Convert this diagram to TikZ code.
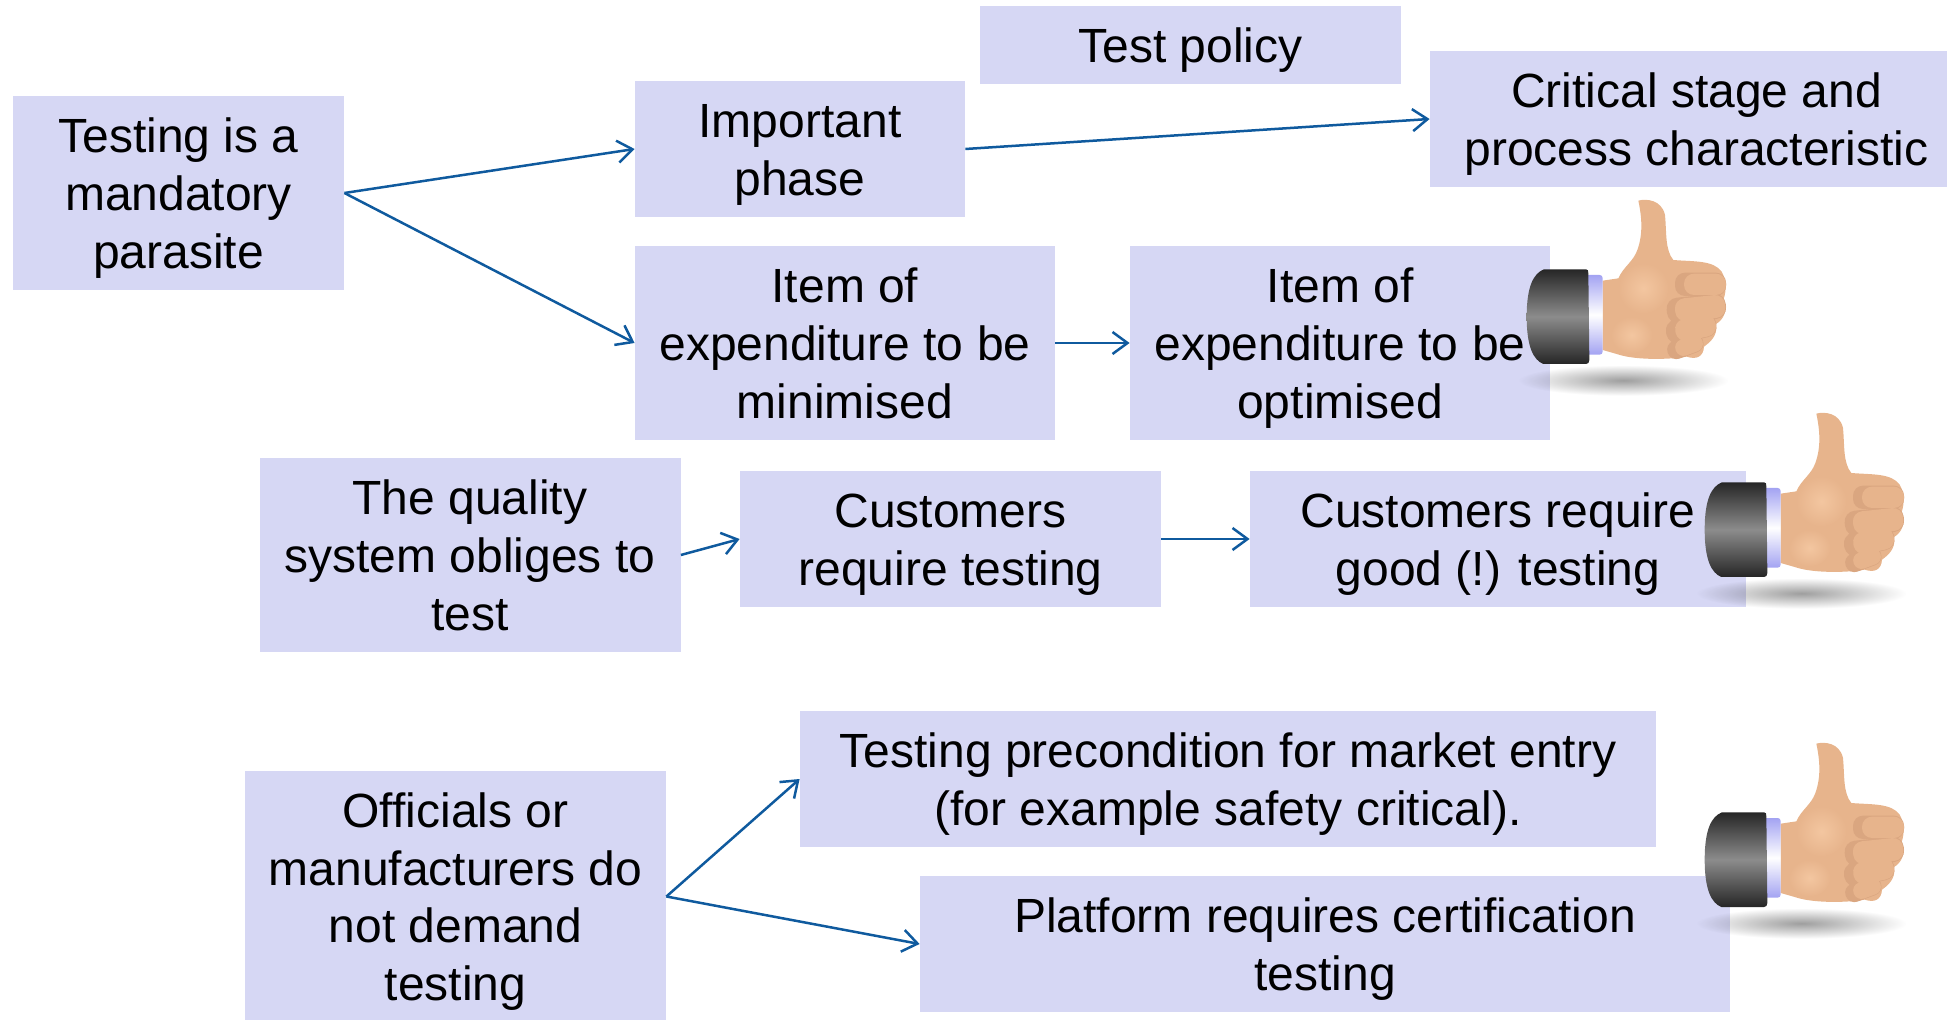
\documentclass[tikz,border=0pt]{standalone}
\usepackage{fontspec}
\setmainfont{Liberation Sans}
\usetikzlibrary{arrows.meta,fadings}
\definecolor{boxfill}{HTML}{D6D7F4}
\definecolor{linkblue}{HTML}{0F5A9E}
\definecolor{skin}{HTML}{E7B48C}
\definecolor{skinlight}{HTML}{F3C6A0}
\definecolor{skindark}{HTML}{DAA680}
\definecolor{cuffdark}{HTML}{262626}
\definecolor{cuffmid}{HTML}{8C8C8C}
\definecolor{shirt}{HTML}{A3A3F2}
\tikzfading[name=softshadow,inner color=transparent!62,outer color=transparent!100]
\newcommand\fl{\rule{0pt}{23pt}}
\tikzset{
  box/.style={fill=boxfill,draw=none,inner sep=0pt,align=center,text=black,
    font=\fontsize{24}{28.8}\selectfont,
    execute at end node=\rule[-5.5pt]{0pt}{5.5pt}},
  link/.style={draw=linkblue,line width=1.25pt,-{Straight Barb[length=7.5pt,width=11pt]}},
  thumb/.pic={
    \begin{scope}[scale=0.33333]
      % shadow
      \fill[black,path fading=softshadow,fit fading=true] (55,555) rectangle (685,647);
      % hand
      \fill[skin] (415,62) .. controls (440,55) and (485,60) .. (495,105)
        .. controls (500,160) and (495,210) .. (520,240)
        .. controls (580,245) and (640,240) .. (665,275)
        .. controls (685,310) and (675,345) .. (670,360)
        .. controls (685,390) and (670,420) .. (648,432)
        .. controls (655,470) and (625,490) .. (612,500)
        .. controls (610,530) and (590,540) .. (560,530)
        .. controls (500,540) and (400,540) .. (350,522)
        -- (308,510) -- (308,302) -- (355,295)
        .. controls (370,260) and (400,245) .. (412,210)
        .. controls (430,160) and (425,110) .. (415,62) -- cycle;
      % palm highlights
      \shade[inner color=skinlight,outer color=skin] (430,325) ellipse [x radius=75,y radius=75];
      \shade[inner color=skinlight,outer color=skin] (395,465) ellipse [x radius=62,y radius=55];
      % fingers
      \begin{scope}[fill=skindark]
        \fill[rounded corners=5pt] (525,278) rectangle (678,348);
        \fill[rotate around={6:(590,385)},rounded corners=5.5pt] (500,347) rectangle (678,423);
        \fill[rotate around={12:(570,445)},rounded corners=5.5pt] (497,410) rectangle (650,482);
        \fill[rotate around={20:(555,500)},rounded corners=4.5pt] (500,472) rectangle (612,528);
      \end{scope}
      \begin{scope}[fill=skin]
        \fill[rounded corners=5pt] (552,281) rectangle (678,345);
        \fill[rotate around={6:(590,385)},rounded corners=5pt] (525,351) rectangle (676,420);
        \fill[rotate around={12:(570,445)},rounded corners=5pt] (525,414) rectangle (648,480);
        \fill[rotate around={20:(555,500)},rounded corners=4pt] (525,476) rectangle (610,526);
      \end{scope}
      % shirt cuff
      \shade[top color=shirt,bottom color=shirt,middle color=white,rounded corners=1.5pt]
        (255,285) -- (308,285) -- (308,524) -- (255,524) -- cycle;
      % jacket sleeve
      \shade[top color=cuffdark,bottom color=cuffdark,middle color=cuffmid]
        (132,268) -- (258,268) .. controls (264,268) and (265,272) .. (265,280)
        -- (268,540) .. controls (268,548) and (264,552) .. (258,552)
        -- (130,552) .. controls (100,540) and (80,500) .. (80,410)
        .. controls (80,320) and (100,280) .. (132,268) -- cycle;
    \end{scope}
  }
}
\begin{document}
\begin{tikzpicture}[x=0.5pt,y=-0.5pt]
\useasboundingbox (0,0) rectangle (1947,1020);
\node[box,minimum width=165.5pt,minimum height=97pt] (parasite) at (178.5,193) {\fl Testing is a\\mandatory\\parasite};
\node[box,minimum width=165pt,minimum height=68pt] (phase) at (800,149) {\fl Important\\phase};
\node[box,minimum width=210.5pt,minimum height=39pt] (policy) at (1190.5,45) {\fl Test policy};
\node[box,minimum width=266.5pt,minimum height=68pt] (critical) at (1696.5,119) {\fl Critical stage and\\process characteristic};
\node[box,minimum width=210pt,minimum height=97pt] (minimised) at (845,343) {\fl Item of\\expenditure to be\\minimised};
\node[box,minimum width=210pt,minimum height=97pt] (optimised) at (1340,343) {\fl Item of\\expenditure to be\\optimised};
\node[box,minimum width=210.5pt,minimum height=97pt] (quality) at (470,555) {\fl The quality\\system obliges to\\test};
\node[box,minimum width=210.5pt,minimum height=68pt] (customers) at (950.5,539) {\fl Customers\\require testing};
\node[box,minimum width=248pt,minimum height=68pt] (good) at (1498,539) {\fl Customers require\\good (!) testing};
\node[box,minimum width=210.5pt,minimum height=126pt] (officials) at (455.5,896.5) {\fl Officials or\\manufacturers do\\not demand\\testing};
\node[box,minimum width=428pt,minimum height=68pt] (entry) at (1228,779) {\fl Testing precondition for market entry\\(for example safety critical).};
\node[box,minimum width=405pt,minimum height=68pt] (platform) at (1325,944) {\fl Platform requires certification\\testing};
\draw[link] (parasite.east) -- (phase.west);
\draw[link] (parasite.east) -- (minimised.west);
\draw[link] (phase.east) -- (critical.west);
\draw[link] (minimised.east) -- (optimised.west);
\draw[link] (quality.east) -- (customers.west);
\draw[link] (customers.east) -- (good.west);
\draw[link] (officials.east) -- (entry.west);
\draw[link] (officials.east) -- (platform.west);
\pic at (1500,180) {thumb};
\pic at (1678,393) {thumb};
\pic at (1678,723) {thumb};
\end{tikzpicture}
\end{document}
